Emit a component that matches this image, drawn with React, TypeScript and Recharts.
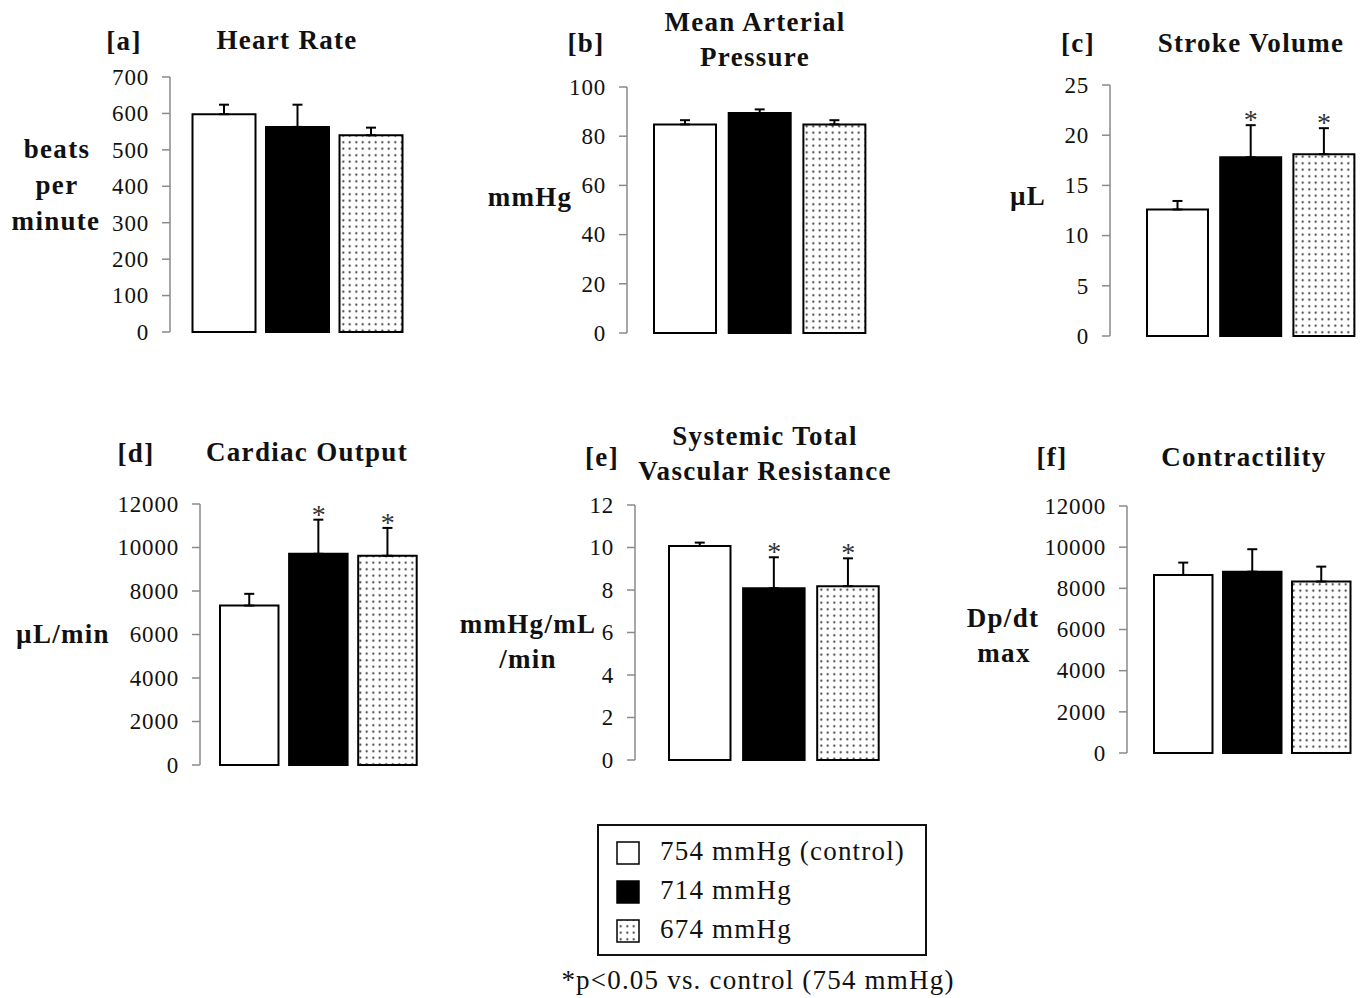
import React from "react";
import { Bar, Cell, ComposedChart, ErrorBar, Scatter, XAxis, YAxis } from "recharts";

const SERIF = "'Liberation Serif', 'Times New Roman', serif";

const GROUPS = ["754 mmHg (control)", "714 mmHg", "674 mmHg"];

const HEART_RATE = [598, 563, 540];
const HEART_RATE_SD = [26, 61, 21];
const HEART_RATE_STARS = [false, false, false];
const HEART_RATE_TICKS = [0, 100, 200, 300, 400, 500, 600, 700];

const MAP_VALUES = [84.8, 89.4, 84.8];
const MAP_SD = [1.7, 1.5, 1.7];
const MAP_STARS = [false, false, false];
const MAP_TICKS = [0, 20, 40, 60, 80, 100];

const STROKE_VOLUME = [12.6, 17.8, 18.1];
const STROKE_VOLUME_SD = [0.85, 3.2, 2.6];
const STROKE_VOLUME_STARS = [false, true, true];
const STROKE_VOLUME_TICKS = [0, 5, 10, 15, 20, 25];

const CARDIAC_OUTPUT = [7330, 9710, 9620];
const CARDIAC_OUTPUT_SD = [540, 1570, 1280];
const CARDIAC_OUTPUT_STARS = [false, true, true];
const CARDIAC_OUTPUT_TICKS = [0, 2000, 4000, 6000, 8000, 10000, 12000];

const RESISTANCE = [10.07, 8.08, 8.18];
const RESISTANCE_SD = [0.16, 1.46, 1.31];
const RESISTANCE_STARS = [false, true, true];
const RESISTANCE_TICKS = [0, 2, 4, 6, 8, 10, 12];

const CONTRACTILITY = [8650, 8810, 8330];
const CONTRACTILITY_SD = [600, 1090, 725];
const CONTRACTILITY_STARS = [false, false, false];
const CONTRACTILITY_TICKS = [0, 2000, 4000, 6000, 8000, 10000, 12000];

// panel layout (pixels in the page)
const PANELS = [
  { id: "a", values: HEART_RATE, sd: HEART_RATE_SD, stars: HEART_RATE_STARS, ticks: HEART_RATE_TICKS,
    axisX: 170, yTop: 77, y0: 332, spacing: 73.5, pad: 17.5, barW: 63 },
  { id: "b", values: MAP_VALUES, sd: MAP_SD, stars: MAP_STARS, ticks: MAP_TICKS,
    axisX: 627, yTop: 87, y0: 333, spacing: 74.7, pad: 21, barW: 62 },
  { id: "c", values: STROKE_VOLUME, sd: STROKE_VOLUME_SD, stars: STROKE_VOLUME_STARS, ticks: STROKE_VOLUME_TICKS,
    axisX: 1110, yTop: 85, y0: 336, spacing: 73.2, pad: 31, barW: 61 },
  { id: "d", values: CARDIAC_OUTPUT, sd: CARDIAC_OUTPUT_SD, stars: CARDIAC_OUTPUT_STARS, ticks: CARDIAC_OUTPUT_TICKS,
    axisX: 200, yTop: 504, y0: 765, spacing: 69.1, pad: 15, barW: 58.5 },
  { id: "e", values: RESISTANCE, sd: RESISTANCE_SD, stars: RESISTANCE_STARS, ticks: RESISTANCE_TICKS,
    axisX: 635, yTop: 505, y0: 760, spacing: 74.1, pad: 28, barW: 61.5 },
  { id: "f", values: CONTRACTILITY, sd: CONTRACTILITY_SD, stars: CONTRACTILITY_STARS, ticks: CONTRACTILITY_TICKS,
    axisX: 1127, yTop: 506, y0: 753, spacing: 69, pad: 22, barW: 58.5 },
];

const LABELS = [
  { t: "[a]", x: 124, y: 50 },
  { t: "Heart Rate", x: 287, y: 49 },
  { t: "beats", x: 57, y: 158 },
  { t: "per", x: 57, y: 194 },
  { t: "minute", x: 56, y: 230 },
  { t: "[b]", x: 586, y: 52 },
  { t: "Mean Arterial", x: 755, y: 31 },
  { t: "Pressure", x: 755, y: 66 },
  { t: "mmHg", x: 530, y: 206 },
  { t: "[c]", x: 1078, y: 52 },
  { t: "Stroke Volume", x: 1251, y: 52 },
  { t: "µL", x: 1028, y: 205 },
  { t: "[d]", x: 136, y: 462 },
  { t: "Cardiac Output", x: 307, y: 461 },
  { t: "µL/min", x: 63, y: 643 },
  { t: "[e]", x: 602, y: 466 },
  { t: "Systemic Total", x: 765, y: 445 },
  { t: "Vascular Resistance", x: 765, y: 480 },
  { t: "mmHg/mL", x: 528, y: 633 },
  { t: "/min", x: 528, y: 668 },
  { t: "[f]", x: 1052, y: 466 },
  { t: "Contractility", x: 1244, y: 466 },
  { t: "Dp/dt", x: 1003, y: 627 },
  { t: "max", x: 1004, y: 662 },
];

const YW = 90;
const MT = 16;
const MB = 16;
const MR = 3;

const Dots = ({ id }: { id: string }) => (
  <defs>
    <pattern id={id} width={6.5} height={6.5} patternUnits="userSpaceOnUse">
      <rect width={6.5} height={6.5} fill="#fff" />
      <circle cx={3.25} cy={3.25} r={1.05} fill="#2a2a2a" />
    </pattern>
  </defs>
);

const Tick = (props: any) => {
  const { x, y, payload } = props;
  return (
    <text x={x} y={y} dy={7.8} textAnchor="end" fontFamily={SERIF} fontSize={23} letterSpacing={0.8} fill="#111">
      {payload.value}
    </text>
  );
};

const Star = (props: any) => {
  const { cx, cy, payload } = props;
  if (!payload || !payload.star) return null;
  return (
    <text x={cx} y={cy + 4} textAnchor="middle" fontFamily={SERIF} fontSize={28} fill="#333">
      *
    </text>
  );
};

function Panel({ p }: { p: (typeof PANELS)[number] }) {
  const rows = GROUPS.map((name, i) => ({
    name,
    value: p.values[i],
    err: [0, p.sd[i]],
    starY: p.values[i] + p.sd[i],
    star: p.stars[i],
  }));
  const patternId = `dots-${p.id}`;
  const fills = ["#fff", "#000", `url(#${patternId})`];
  const plotW = p.pad + 3 * p.spacing;
  const max = p.ticks[p.ticks.length - 1];
  return (
    <div style={{ position: "absolute", left: p.axisX - YW, top: p.yTop - MT }}>
      <ComposedChart
        width={YW + plotW + MR}
        height={MT + (p.y0 - p.yTop) + MB}
        data={rows}
        margin={{ top: MT, right: MR, bottom: MB, left: 0 }}
      >
        <Dots id={patternId} />
        <XAxis dataKey="name" hide padding={{ left: p.pad, right: 0 }} />
        <YAxis
          type="number"
          width={YW}
          domain={[0, max]}
          ticks={p.ticks}
          interval={0}
          tickSize={8}
          tickMargin={13}
          tick={<Tick />}
          axisLine={{ stroke: "#8a8a8a", strokeWidth: 1.5 }}
          tickLine={{ stroke: "#8a8a8a", strokeWidth: 1.5 }}
        />
        <Bar dataKey="value" barSize={p.barW} isAnimationActive={false} stroke="#000" strokeWidth={2}>
          {rows.map((r, i) => (
            <Cell key={r.name} fill={fills[i]} stroke="#000" strokeWidth={2} />
          ))}
          <ErrorBar dataKey="err" direction="y" width={5} stroke="#000" strokeWidth={2} />
        </Bar>
        <Scatter dataKey="starY" shape={<Star />} isAnimationActive={false} />
      </ComposedChart>
    </div>
  );
}

export default function App() {
  const legendRows = [860, 899, 938];
  const legendFills = ["#fff", "#000", "url(#dots-legend)"];
  return (
    <div
      style={{
        position: "absolute",
        left: 0,
        top: 0,
        width: 1361,
        height: 998,
        background: "#fff",
        overflow: "hidden",
      }}
    >
      <svg width={1361} height={998} style={{ position: "absolute", left: 0, top: 0 }}>
        <Dots id="dots-legend" />
        {LABELS.map((l) => (
          <text
            key={l.t + l.x}
            x={l.x}
            y={l.y}
            textAnchor="middle"
            fontFamily={SERIF}
            fontWeight="bold"
            fontSize={27}
            letterSpacing={1.3}
            fill="#111"
          >
            {l.t}
          </text>
        ))}
        <rect x={598} y={825} width={328} height={130} fill="none" stroke="#111" strokeWidth={2} />
        {GROUPS.map((g, i) => (
          <g key={g}>
            <rect
              x={617}
              y={legendRows[i] - 18}
              width={22}
              height={22}
              fill={legendFills[i]}
              stroke="#000"
              strokeWidth={1.5}
            />
            <text x={660} y={legendRows[i]} fontFamily={SERIF} fontSize={27} letterSpacing={1.2} fill="#111">
              {g}
            </text>
          </g>
        ))}
        <text x={758} y={989} textAnchor="middle" fontFamily={SERIF} fontSize={27} letterSpacing={1.2} fill="#111">
          *p&lt;0.05 vs. control (754 mmHg)
        </text>
      </svg>
      {PANELS.map((p) => (
        <Panel key={p.id} p={p} />
      ))}
    </div>
  );
}
